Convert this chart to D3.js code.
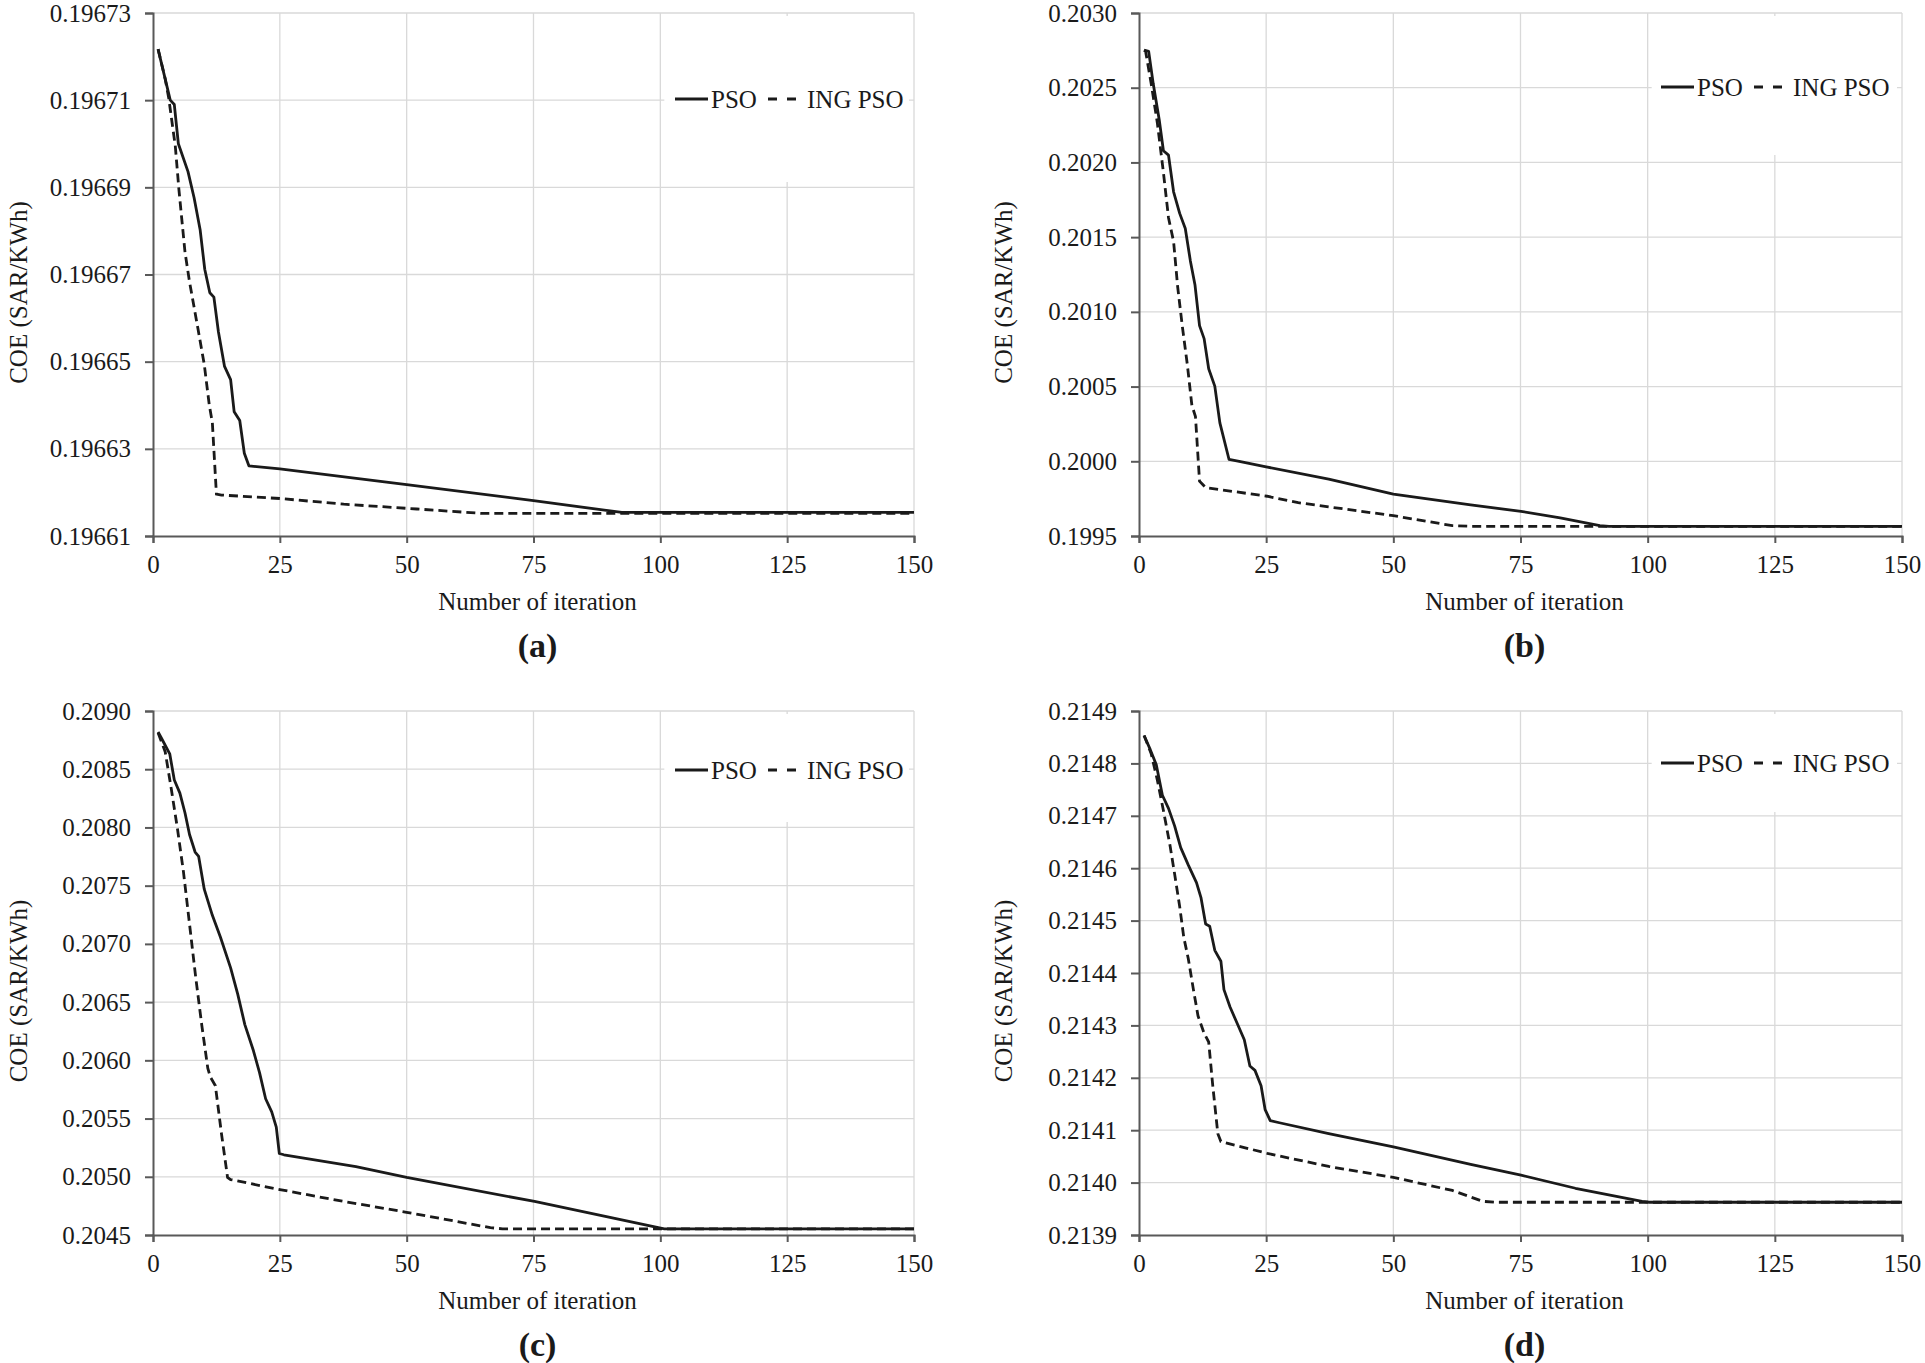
<!DOCTYPE html>
<html>
<head>
<meta charset="utf-8">
<script src="https://cdn.jsdelivr.net/npm/d3@7"></script>
<style>
  body { margin: 0; background: #fff; }
  svg { display: block; }
  svg text { font-family: "Liberation Serif", "Times New Roman", serif; }
</style>
</head>
<body>
<svg id="chart" width="1925" height="1363"></svg>
<script>
// iteration axis, shared by all four panels
const iterTicks = [0, 25, 50, 75, 100, 125, 150];
const panelLabels = ["(a)", "(b)", "(c)", "(d)"];
const seriesNames = ["PSO", "ING PSO"];

const yTicksA = [0.19661, 0.19663, 0.19665, 0.19667, 0.19669, 0.19671, 0.19673];
const yTicksB = [0.1995, 0.2000, 0.2005, 0.2010, 0.2015, 0.2020, 0.2025, 0.2030];
const yTicksC = [0.2045, 0.2050, 0.2055, 0.2060, 0.2065, 0.2070, 0.2075, 0.2080, 0.2085, 0.2090];
const yTicksD = [0.2139, 0.2140, 0.2141, 0.2142, 0.2143, 0.2144, 0.2145, 0.2146, 0.2147, 0.2148, 0.2149];

// [iteration, COE] break points
const psoA = [
  [1, 0.1967217], [2.4, 0.1967149], [3.4, 0.196710], [4.2, 0.196709], [5, 0.19670],
  [6.9, 0.1966936], [8.1, 0.1966876], [9.3, 0.1966802], [10.2, 0.1966712], [11.2, 0.1966658],
  [12, 0.1966648], [12.9, 0.1966568], [14.1, 0.1966489], [15.3, 0.1966459], [16, 0.1966385],
  [17.1, 0.1966365], [18, 0.196629], [18.9, 0.1966261], [25, 0.1966254], [50, 0.1966218],
  [75, 0.1966181], [92.4, 0.1966154], [150, 0.1966154]
];
const ingA = [
  [1, 0.1967217], [2.4, 0.1967149], [3.1, 0.1967105], [4.4, 0.1966994], [5.1, 0.1966896],
  [6.3, 0.1966752], [7.2, 0.1966683], [8.9, 0.1966573], [10.1, 0.1966494], [11.1, 0.19664],
  [11.7, 0.196636], [12.5, 0.1966196], [13.5, 0.1966194], [25, 0.1966186], [37.6, 0.1966173],
  [52, 0.1966162], [64.7, 0.1966152], [150, 0.1966152]
];

const psoB = [
  [1, 0.202751], [1.9, 0.202743], [2.8, 0.202526], [4, 0.20228], [4.8, 0.202078],
  [5.8, 0.202049], [6.8, 0.2018035], [8, 0.201659], [9.1, 0.201558], [10.1, 0.201341],
  [11, 0.201182], [11.9, 0.200908], [12.8, 0.200821], [13.7, 0.200619], [14.9, 0.200503],
  [15.9, 0.200257], [17.7, 0.200012], [19.7, 0.2000], [25, 0.1999624], [37.3, 0.199881],
  [50, 0.19978], [65.2, 0.199708], [75.1, 0.199665], [82.8, 0.199621], [90.6, 0.199569],
  [92.4, 0.199565], [150, 0.199565]
];
const ingB = [
  [1, 0.202751], [1.3, 0.202743], [2.4, 0.202526], [3.6, 0.202266], [4.8, 0.201933],
  [5.8, 0.20163], [6.8, 0.201471], [7.6, 0.201168], [8.5, 0.200908], [9.5, 0.200647],
  [10.4, 0.200373], [11.1, 0.2003], [11.9, 0.199867], [13.1, 0.199824], [25.2, 0.199766],
  [31.3, 0.199723], [50, 0.199636], [61.6, 0.199569], [65.2, 0.199565], [150, 0.199565]
];

const psoC = [
  [1, 0.20882], [1.7, 0.208764], [3.3, 0.208632], [4.2, 0.208407], [5.3, 0.208295],
  [6.3, 0.208126], [7.2, 0.207939], [8.3, 0.207789], [9, 0.207751], [10.1, 0.20747],
  [11.7, 0.207245], [13.3, 0.207057], [15.3, 0.206794], [16.7, 0.206569], [18.1, 0.206307],
  [19.8, 0.206082], [21, 0.205895], [22.2, 0.20567], [23.4, 0.205557], [24.3, 0.205426],
  [24.9, 0.2052], [25.8, 0.205189], [40, 0.205088], [50, 0.204994], [75.2, 0.204788],
  [99.6, 0.204563], [100.8, 0.204553], [150, 0.204553]
];
const ingC = [
  [1, 0.208813], [2.4, 0.208651], [3.6, 0.208332], [4.8, 0.207995], [6, 0.20762],
  [7.2, 0.20717], [8.4, 0.20672], [9.6, 0.206307], [10.8, 0.205932], [11.3, 0.205857],
  [12.3, 0.205782], [13.5, 0.205369], [14.7, 0.204994], [15.3, 0.204976], [25, 0.20489],
  [37.6, 0.204788], [50, 0.204695], [66.5, 0.204563], [68.9, 0.204553], [150, 0.204553]
];

const psoD = [
  [1, 0.2148533], [2.2, 0.2148267], [3.4, 0.2147975], [4.6, 0.2147392], [5.8, 0.2147142],
  [7, 0.2146808], [8.2, 0.2146392], [9.7, 0.2146058], [11.3, 0.2145725], [12.2, 0.2145433],
  [13.1, 0.2144933], [13.9, 0.2144892], [14.9, 0.2144433], [16.1, 0.2144225], [16.7, 0.2143683],
  [17.9, 0.214335], [19.4, 0.2143017], [20.7, 0.2142725], [21.8, 0.2142225], [22.8, 0.2142142],
  [24, 0.214185], [24.8, 0.2141392], [25.8, 0.2141183], [27.6, 0.2141142], [37.3, 0.2140933],
  [50, 0.2140683], [65.2, 0.214035], [75.1, 0.2140142], [85.8, 0.2139892], [98.9, 0.2139642],
  [100.3, 0.2139625], [150, 0.2139625]
];
const ingD = [
  [1, 0.2148533], [2.4, 0.2148183], [3.6, 0.2147683], [4.8, 0.21471], [6.1, 0.2146433],
  [7, 0.2145892], [8, 0.2145267], [8.8, 0.2144683], [9.7, 0.2144267], [10.7, 0.2143683],
  [11.6, 0.2143183], [12.8, 0.214285], [13.7, 0.2142683], [14.5, 0.214185], [15.5, 0.2140933],
  [16.1, 0.2140783], [16.7, 0.2140767], [25.2, 0.2140558], [37.3, 0.2140308], [50, 0.21401],
  [61.6, 0.213985], [67.6, 0.2139642], [70, 0.2139625], [150, 0.2139625]
];

const panels = [
  { label: panelLabels[0], yTicks: yTicksA, fmt: ".5f", pso: psoA, ing: ingA,
    x0: 153, x1: 914, top: 13, bottom: 536, legendY: 99, boxBottom: 182, titleX: 19 },
  { label: panelLabels[1], yTicks: yTicksB, fmt: ".4f", pso: psoB, ing: ingB,
    x0: 1139, x1: 1902, top: 13, bottom: 536, legendY: 87, boxBottom: 155, titleX: 1004 },
  { label: panelLabels[2], yTicks: yTicksC, fmt: ".4f", pso: psoC, ing: ingC,
    x0: 153, x1: 914, top: 711, bottom: 1235, legendY: 770, boxBottom: 822, titleX: 19 },
  { label: panelLabels[3], yTicks: yTicksD, fmt: ".4f", pso: psoD, ing: ingD,
    x0: 1139, x1: 1902, top: 711, bottom: 1235, legendY: 763, boxBottom: 812, titleX: 1004 },
];

const svg = d3.select("#chart");
const ink = "#1a1a1a";
const axisColor = "#595959";
const gridColor = "#d9d9d9";

function drawPanel(p) {
  const g = svg.append("g");
  const x = d3.scaleLinear().domain([0, 150]).range([p.x0, p.x1]);
  const y = d3.scaleLinear()
    .domain([d3.min(p.yTicks), d3.max(p.yTicks)])
    .range([p.bottom, p.top]);

  // gridlines
  g.append("g")
    .selectAll("line.h")
    .data(p.yTicks.slice(1))
    .join("line")
    .attr("x1", p.x0).attr("x2", p.x1)
    .attr("y1", (d) => y(d)).attr("y2", (d) => y(d))
    .attr("stroke", gridColor).attr("stroke-width", 1.3);
  g.append("g")
    .selectAll("line.v")
    .data(iterTicks.slice(1))
    .join("line")
    .attr("x1", (d) => x(d)).attr("x2", (d) => x(d))
    .attr("y1", p.top).attr("y2", p.bottom)
    .attr("stroke", gridColor).attr("stroke-width", 1.3);

  // white legend box hides grid behind it
  g.append("rect")
    .attr("x", x(100) + 4)
    .attr("y", p.top + 3)
    .attr("width", x(150) - x(100) - 9)
    .attr("height", p.boxBottom - p.top - 3)
    .attr("fill", "#fff");

  const yAxis = g.append("g")
    .attr("transform", `translate(${p.x0},0)`)
    .call(d3.axisLeft(y).tickValues(p.yTicks).tickFormat(d3.format(p.fmt)).tickSize(8).tickPadding(14));
  const xAxis = g.append("g")
    .attr("transform", `translate(0,${p.bottom})`)
    .call(d3.axisBottom(x).tickValues(iterTicks).tickSize(7).tickPadding(12));

  [yAxis, xAxis].forEach((ax) => {
    ax.attr("font-family", null).attr("font-size", null);
    ax.select(".domain").attr("stroke", axisColor).attr("stroke-width", 2);
    ax.selectAll(".tick line").attr("stroke", axisColor).attr("stroke-width", 2);
    ax.selectAll("text")
      .style("font-family", "'Liberation Serif', serif")
      .style("font-size", "25px")
      .attr("fill", ink);
  });

  const line = d3.line().x((d) => x(d[0])).y((d) => y(d[1]));

  g.append("path")
    .datum(p.ing)
    .attr("d", line)
    .attr("fill", "none")
    .attr("stroke", ink)
    .attr("stroke-width", 2.8)
    .attr("stroke-dasharray", "9,5");
  g.append("path")
    .datum(p.pso)
    .attr("d", line)
    .attr("fill", "none")
    .attr("stroke", ink)
    .attr("stroke-width", 2.8)
    .attr("stroke-linejoin", "round");

  // legend
  const lx = p.x0 + 522;
  const lg = g.append("g").attr("transform", `translate(${lx},${p.legendY})`);
  lg.append("line").attr("x1", 0).attr("x2", 33).attr("y1", 0).attr("y2", 0)
    .attr("stroke", ink).attr("stroke-width", 2.8);
  lg.append("text").attr("x", 36).attr("y", 9).attr("font-size", 25).attr("fill", ink)
    .text(seriesNames[0]);
  lg.append("line").attr("x1", 93).attr("x2", 122).attr("y1", 0).attr("y2", 0)
    .attr("stroke", ink).attr("stroke-width", 2.8).attr("stroke-dasharray", "9,10");
  lg.append("text").attr("x", 132).attr("y", 9).attr("font-size", 25).attr("fill", ink)
    .text(seriesNames[1]);

  // axis titles
  g.append("text")
    .attr("x", (p.x0 + p.x1) / 2 + 4)
    .attr("y", p.bottom + 74)
    .attr("text-anchor", "middle")
    .attr("font-size", 25)
    .attr("fill", ink)
    .text("Number of iteration");
  g.append("text")
    .attr("transform", `translate(${p.titleX + 8},${(p.top + p.bottom) / 2 + 18}) rotate(-90)`)
    .attr("text-anchor", "middle")
    .attr("font-size", 25)
    .attr("fill", ink)
    .text("COE (SAR/KWh)");
  g.append("text")
    .attr("x", (p.x0 + p.x1) / 2 + 4)
    .attr("y", p.bottom + 121)
    .attr("text-anchor", "middle")
    .attr("font-size", 34)
    .attr("font-weight", "bold")
    .attr("fill", ink)
    .text(p.label);
}

panels.forEach(drawPanel);
</script>
</body>
</html>
